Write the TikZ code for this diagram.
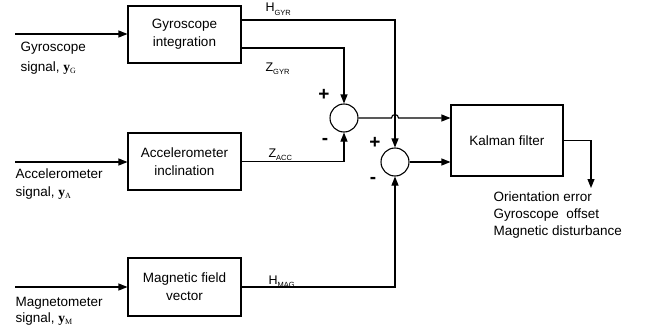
\documentclass[tikz,border=0pt]{standalone}
\usepackage{fontspec}
\setmainfont{Liberation Sans}
\newfontfamily\serif{Liberation Serif}
\usetikzlibrary{arrows.meta,calc}
\newcommand{\vy}[1]{{\serif\bfseries y}\raisebox{-2.5pt}{\serif\fontsize{8}{9}\selectfont #1}}
\newcommand{\sbs}[2]{{\fontsize{12.5}{14}\selectfont #1}\raisebox{-3.5pt}{\fontsize{7.5}{8}\selectfont #2}}
\begin{document}
\begin{tikzpicture}[x=1pt,y=-1pt,
  font=\fontsize{13.5}{18}\selectfont,
  line width=1.1pt,
  blk/.style={draw,rectangle,minimum width=113pt,minimum height=57pt,align=center,inner sep=0pt},
  sumj/.style={draw,circle,minimum size=28pt,inner sep=0pt},
  arr/.style={-{Triangle[length=9pt,width=7pt]}},
  lbl/.style={anchor=base west,inner sep=0pt},
  sgn/.style={inner sep=0pt,font=\fontsize{19}{19}\selectfont\bfseries}]
\useasboundingbox (0,0) rectangle (646,332);
\node[blk] (gyro) at (184.5,34.5) {Gyroscope\\integration};
\node[blk] (acc) at (184.5,161.5) {Accelerometer\\inclination};
\node[blk,minimum height=58pt] (mag) at (184.5,287) {Magnetic field\\vector};
\node[blk,minimum width=112pt,minimum height=71pt] (kal) at (507,140.5) {Kalman filter};
\node[sumj] (s1) at (344,118) {};
\node[sumj] (s2) at (395,162) {};
% inputs
\coordinate (ig) at (15,34);
\coordinate (ia) at (15,162);
\coordinate (im) at (15,287);
\draw[arr] (ig) -- (ig -| gyro.west);
\draw[arr] (ia) -- (ia -| acc.west);
\draw[arr] (im) -- (im -| mag.west);
\node[anchor=west,align=left,inner sep=0pt] (tg) at (20,58) {Gyroscope\\[2pt]signal, \vy{G}};
\node[anchor=west,align=left,inner sep=0pt] (ta) at (15,184) {Accelerometer\\signal, \vy{A}};
\node[anchor=west,align=left,inner sep=0pt,font=\fontsize{13.5}{16}\selectfont] (tm) at (15,311) {Magnetometer\\signal, \vy{M}};
% signals
\draw[arr] ([yshift=14.5pt]gyro.east) -| (s2.north);
\draw[arr] ([yshift=-13.5pt]gyro.east) -| (s1.north);
\draw[arr] (acc.east) -| (s1.south);
\draw[arr] (mag.east) -| (s2.south);
\draw[arr] (s1.east) -- ($(s2 |- s1)+(-3.5,0)$) arc[start angle=180,end angle=0,radius=3.5pt] -- (kal.west |- s1);
\draw[arr] (s2.east) -- (kal.west |- s2);
\coordinate (ko) at (591,188);
\draw[arr] (kal.east) -| (ko);
% labels
\node[lbl] (lhg) at (265,12) {\sbs{H}{GYR}};
\node[lbl] (lzg) at (265,71) {\sbs{Z}{GYR}};
\node[lbl] (lza) at (268,157) {\sbs{Z}{ACC}};
\node[lbl] (lhm) at (268,284) {\sbs{H}{MAG}};
\node[sgn] (p1) at (324,95) {+};
\node[sgn] (m1) at (325,141) {-};
\node[sgn] (p2) at (375,143) {+};
\node[sgn] (m2) at (373,180) {-};
\node[anchor=north west,align=left,inner sep=0pt,font=\fontsize{13.5}{17}\selectfont] (out) at (493,191) {Orientation error\\Gyroscope\ \ offset\\Magnetic disturbance};
\end{tikzpicture}
\end{document}
